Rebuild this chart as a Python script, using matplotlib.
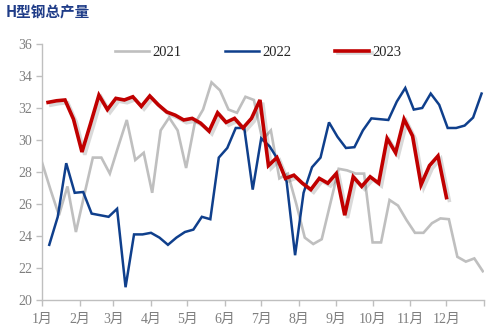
import matplotlib
matplotlib.use("Agg")
import matplotlib.pyplot as plt
import matplotlib.patheffects as pe
import pandas as pd

title = "H型钢总产量"
month_labels = ["1月", "2月", "3月", "4月", "5月", "6月", "7月", "8月", "9月", "10月", "11月", "12月"]
series_names = ["2021", "2022", "2023"]

v2021 = [28.6, 26.9, 25.3, 27.1, 24.25, 26.6, 28.9, 28.9, 27.9, 29.6, 31.25, 28.75, 29.2,
         26.7, 30.6, 31.4, 30.6, 28.25, 31.0, 31.9, 33.6, 33.1, 31.9, 31.7, 32.7, 32.5,
         30.0, 30.6, 27.6, 27.9, 26.0, 23.9, 23.5, 23.8, 26.0, 28.2, 28.1, 27.9, 27.9,
         23.6, 23.6, 26.25, 25.9, 25.0, 24.2, 24.2, 24.8, 25.1, 25.05, 22.7, 22.4, 22.6, 21.8]
v2022 = [23.45, 25.2, 28.55, 26.7, 26.75, 25.4, 25.3, 25.2, 25.7, 20.8, 24.1, 24.1, 24.2,
         23.9, 23.45, 23.9, 24.25, 24.4, 25.2, 25.05, 28.9, 29.5, 30.75, 30.75, 26.9, 30.1,
         29.6, 28.75, 27.4, 22.8, 26.7, 28.3, 28.9, 31.1, 30.2, 29.5, 29.55, 30.6, 31.35,
         31.3, 31.25, 32.4, 33.25, 31.9, 32.0, 32.9, 32.2, 30.75, 30.75, 30.9, 31.4, 32.9]
v2023 = [32.35, 32.45, 32.5, 31.3, 29.25, 31.0, 32.8, 31.9, 32.6, 32.5, 32.7, 32.1, 32.75,
         32.2, 31.75, 31.55, 31.25, 31.35, 31.05, 30.55, 31.7, 31.1, 31.35, 30.75, 31.35, 32.5,
         28.4, 28.9, 27.6, 27.8, 27.3, 26.9, 27.6, 27.3, 27.9, 25.3, 27.7, 27.1, 27.7,
         27.3, 30.1, 29.2, 31.3, 30.25, 27.2, 28.4, 29.0, 26.4]
start_dates = ["2021-01-01", "2022-01-07", "2023-01-06"]


def day_positions(start, n):
    d = pd.date_range(start, periods=n, freq="7D")
    return (d.dayofyear - 1).to_numpy()


fig = plt.figure(figsize=(5.0, 3.33), dpi=100)
ax = fig.add_axes([0.084, 0.099, 0.884, 0.769])

serif = ["Liberation Serif", "Noto Sans CJK SC"]

x21 = day_positions(start_dates[0], len(v2021))
x22 = day_positions(start_dates[1], len(v2022))
x23 = day_positions(start_dates[2], len(v2023))

ax.plot(x21, v2021, color="#BFBFBF", lw=1.9, label=series_names[0], solid_joinstyle="miter")
ax.plot(x22, v2022, color="#0F3F8C", lw=1.8, label=series_names[1], solid_joinstyle="miter")
ax.plot(x23, v2023, color="#C00000", lw=2.6, label=series_names[2], solid_joinstyle="miter",
        path_effects=[pe.SimpleLineShadow(offset=(2.0, -2.0), shadow_color="#000000", alpha=0.15),
                      pe.Normal()])

ax.set_xlim(0, 365)
ax.set_ylim(20, 36)
ax.set_yticks(range(20, 37, 2))
month_starts = [0, 31, 59, 90, 120, 151, 181, 212, 243, 273, 304, 334, 365]
ax.set_xticks(month_starts)
ax.set_xticklabels(month_labels + [""])

for s in ["top", "right"]:
    ax.spines[s].set_visible(False)
for s in ["left", "bottom"]:
    ax.spines[s].set_color("#BFBFBF")
    ax.spines[s].set_linewidth(1.0)

ax.tick_params(axis="both", colors="#BFBFBF", length=4, width=1.0, labelcolor="#7F7F7F")
ax.tick_params(axis="x", pad=5)
ax.tick_params(axis="y", pad=3)
for lab in ax.get_xticklabels() + ax.get_yticklabels():
    lab.set_family(serif)
    lab.set_fontsize(10)

leg = ax.legend(loc="upper center", bbox_to_anchor=(0.49, 1.045), ncol=3, frameon=False,
                prop={"family": serif, "size": 10.5}, handlelength=2.3, columnspacing=3.0,
                handletextpad=0.25)
for t in leg.get_texts():
    t.set_color("#262626")

fig.text(0.012, 0.962, title, family=["Noto Sans CJK SC", "DejaVu Sans"], fontsize=10.5,
         fontweight="bold", color="#1F3C88", va="center", ha="left")

fig.savefig("out.png", dpi=100)
